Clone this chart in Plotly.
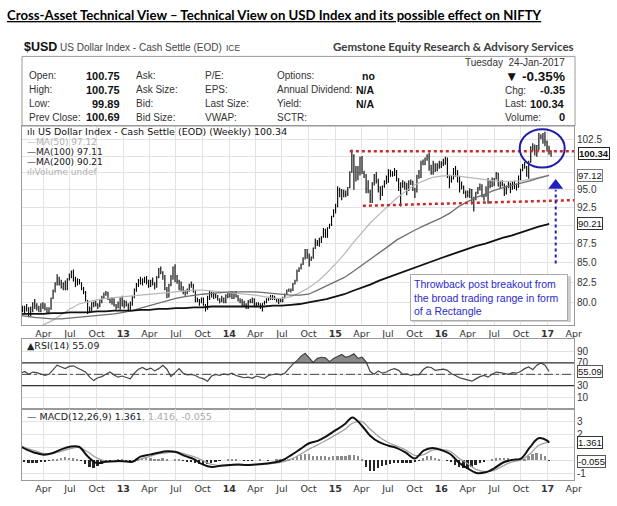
import numpy as np
import pandas as pd
import plotly.graph_objects as go

# ---- weekly bars for $USD (ICE cash settle), one line per month ----
opens = [
    80.6, 79.9,
    79.2, 79.0, 79.3, 79.3,
    78.6, 79.3, 79.8, 79.6, 79.4,
    78.9, 79.8, 79.5, 79.2,
    78.8, 79.2, 80.5, 81.4,
    82.4, 83.0, 82.3, 81.8, 82.3,
    81.6, 82.9, 83.2, 83.8,
    82.8, 82.6, 82.6, 82.4, 81.7,
    81.2, 80.2, 78.9, 79.2,
    79.9, 79.7, 79.8, 79.6,
    80.2, 80.6, 81.0, 81.2, 80.4,
    80.1, 80.4, 79.6, 79.4,
    # 2013
    79.8, 80.5, 79.6, 80.0,
    79.7, 79.1, 79.9, 80.6,
    81.6, 82.2, 82.7, 82.4, 82.6,
    83.0, 82.5, 82.0, 82.6,
    82.3, 81.9, 83.1, 84.2, 83.8,
    83.3, 81.6, 80.8, 82.2,
    83.2, 84.4, 83.2, 82.6,
    81.7, 81.9, 81.2, 81.2, 81.4,
    82.2, 82.2, 81.4, 80.2,
    80.3, 80.1, 80.4, 79.7,
    79.2, 80.7, 81.2, 80.9, 80.9,
    80.6, 80.3, 80.2, 80.5,
    # 2014
    80.1, 80.8, 80.7, 81.2, 80.5,
    81.2, 80.7, 80.2, 80.1,
    79.7, 79.7, 79.3, 80.1,
    80.1, 80.4, 79.5, 79.8,
    79.8, 79.5, 79.9, 80.0, 80.4,
    80.4, 80.6, 80.6, 80.4,
    80.2, 80.2, 80.1, 80.6,
    81.0, 81.4, 81.4, 81.5, 82.3,
    82.7, 83.9, 84.3, 84.8,
    85.6, 86.7, 85.9, 85.3, 85.7,
    86.9, 87.6, 87.5, 88.2,
    88.4, 89.3, 88.4, 89.6,
    # 2015
    90.1, 91.2, 92.1, 92.6, 95.0,
    94.8, 94.5, 94.2, 94.4,
    95.3, 97.6, 100.0, 97.8,
    97.5, 97.5, 99.7, 97.4,
    96.9, 95.2, 94.8, 93.2, 96.0,
    97.0, 96.2, 95.3, 94.4,
    95.5, 96.2, 96.1, 97.9, 97.2,
    97.3, 97.8, 96.5, 94.9,
    95.9, 96.0, 95.3, 94.9,
    96.0, 96.2, 94.9, 94.7, 96.9,
    96.8, 99.1, 98.7, 99.6,
    100.0, 98.1, 97.5, 98.8,
    # 2016
    97.9, 98.6, 98.5, 98.9, 98.9,
    99.6, 97.0, 96.2, 96.6,
    98.1, 97.2, 96.1, 95.1,
    95.4, 94.6, 94.1, 94.6, 95.0,
    93.1, 93.9, 94.6, 95.3,
    95.5, 94.0, 94.2, 94.2,
    95.5, 95.6, 96.3, 96.6, 97.4,
    95.5, 96.2, 95.7, 94.5,
    95.5, 95.8, 95.3, 96.1, 95.5,
    95.4, 96.6, 98.0, 98.7,
    98.4, 97.0, 99.1, 101.2,
    101.5, 100.8, 101.6, 102.9, 103.0,
    # 2017
    102.2, 102.2, 101.2, 100.7,
]
highs = [
    80.9, 80.0,
    79.6, 79.6, 79.8, 79.4,
    79.5, 80.0, 80.4, 79.9, 79.6,
    79.9, 80.0, 79.9, 79.4,
    79.4, 80.6, 81.6, 82.5,
    83.5, 83.2, 82.8, 82.5, 82.7,
    83.0, 83.6, 84.0, 84.1,
    83.2, 83.0, 82.9, 82.5, 81.9,
    81.4, 80.3, 79.5, 80.0,
    80.1, 80.2, 79.9, 80.3,
    80.8, 81.2, 81.4, 81.3, 80.5,
    80.6, 80.5, 79.8, 80.1,
    # 2013
    80.6, 80.8, 80.3, 80.2,
    79.9, 80.1, 80.8, 81.7,
    82.4, 82.9, 83.2, 83.0, 83.2,
    83.3, 82.8, 82.8, 83.1,
    82.5, 83.3, 84.3, 84.5, 83.9,
    83.4, 81.9, 82.3, 83.4,
    84.5, 84.8, 83.4, 82.8,
    82.6, 82.0, 81.5, 81.7, 82.3,
    82.6, 82.3, 81.5, 80.6,
    80.4, 80.6, 80.6, 79.8,
    80.8, 81.5, 81.3, 81.2, 81.1,
    80.9, 80.5, 80.8, 80.6,
    # 2014
    81.0, 81.2, 81.3, 81.4, 81.3,
    81.4, 80.9, 80.5, 80.4,
    80.2, 79.9, 80.3, 80.4,
    80.6, 80.5, 80.0, 80.0,
    79.9, 79.9, 80.2, 80.5, 80.7,
    80.9, 80.9, 80.8, 80.5,
    80.4, 80.4, 80.7, 81.1,
    81.6, 81.7, 81.7, 82.4, 82.8,
    84.1, 84.4, 84.9, 85.7,
    86.8, 86.8, 86.2, 85.8, 87.0,
    88.2, 88.0, 88.3, 88.5,
    89.6, 89.5, 89.7, 90.2,
    # 2015
    91.3, 92.2, 93.0, 95.5, 95.3,
    95.1, 95.0, 94.9, 95.4,
    97.7, 101.0, 100.3, 98.5,
    98.5, 99.9, 100.0, 97.8,
    97.3, 96.4, 95.0, 96.1, 97.3,
    97.6, 96.6, 95.5, 95.6,
    96.4, 97.1, 98.0, 97.9, 97.7,
    98.2, 97.9, 96.7, 96.1,
    96.4, 96.2, 96.0, 96.4,
    96.5, 96.3, 95.3, 97.2, 97.9,
    99.3, 99.5, 99.8, 100.3,
    100.5, 98.7, 99.3, 98.9,
    # 2016
    98.9, 99.3, 99.2, 99.6, 99.9,
    99.8, 97.2, 97.1, 98.2,
    98.5, 97.9, 97.0, 96.2,
    95.6, 94.9, 94.9, 95.2, 95.1,
    94.0, 94.7, 95.4, 95.9,
    95.8, 94.3, 95.5, 96.7,
    96.4, 96.8, 96.7, 97.6, 97.5,
    96.3, 96.4, 95.9, 95.6,
    96.2, 96.0, 96.2, 96.3, 95.9,
    97.1, 98.1, 98.8, 99.1,
    98.5, 99.3, 101.5, 102.0,
    101.8, 101.7, 103.6, 103.4, 103.6,
    # 2017
    103.8, 102.4, 101.6, 100.9,
]
lows = [
    79.7, 78.9,
    78.8, 78.6, 78.9, 78.2,
    78.3, 78.8, 79.2, 79.0, 78.8,
    78.8, 79.2, 79.0, 78.7,
    78.6, 79.1, 80.4, 81.2,
    82.1, 82.1, 81.7, 81.5, 81.5,
    81.5, 82.7, 83.0, 82.6,
    81.9, 82.1, 82.2, 81.5, 81.0,
    80.1, 78.6, 78.8, 78.9,
    79.4, 79.5, 79.2, 79.4,
    79.9, 80.4, 80.8, 80.3, 79.9,
    79.7, 79.5, 79.1, 79.3,
    # 2013
    79.1, 79.5, 79.3, 79.5,
    78.9, 79.0, 79.6, 80.5,
    81.3, 81.9, 82.2, 82.1, 82.4,
    82.2, 81.8, 81.9, 82.1,
    81.6, 81.8, 83.0, 83.5, 82.8,
    81.5, 80.5, 80.6, 82.0,
    82.8, 82.5, 82.3, 81.5,
    81.4, 81.0, 80.8, 81.0, 81.3,
    81.8, 81.2, 80.0, 80.0,
    79.6, 79.9, 79.6, 78.9,
    79.1, 80.3, 80.6, 80.4, 80.5,
    80.2, 79.9, 80.0, 79.9,
    # 2014
    79.9, 80.5, 80.6, 80.4, 80.4,
    80.6, 80.1, 79.9, 79.6,
    79.5, 79.2, 79.2, 79.9,
    79.9, 79.4, 79.4, 79.6,
    79.2, 78.9, 79.7, 79.9, 80.2,
    80.3, 80.3, 80.3, 80.0,
    79.8, 80.0, 80.0, 80.5,
    80.9, 81.3, 81.2, 81.4, 82.2,
    82.6, 83.8, 84.1, 84.7,
    85.4, 85.5, 84.5, 85.2, 85.5,
    86.8, 87.2, 87.1, 87.6,
    88.3, 88.3, 88.3, 89.5,
    # 2015
    89.9, 91.1, 91.6, 92.5, 93.9,
    93.5, 93.9, 93.9, 94.1,
    95.2, 97.5, 95.0, 96.2,
    96.4, 97.1, 97.3, 96.7,
    94.5, 94.5, 93.1, 93.1, 95.6,
    95.9, 94.6, 93.5, 94.1,
    95.3, 95.8, 96.0, 96.9, 96.9,
    97.0, 96.2, 94.8, 92.6,
    95.3, 95.0, 94.2, 94.8,
    95.7, 94.8, 93.8, 94.6, 96.6,
    96.7, 98.6, 98.6, 99.3,
    97.8, 97.2, 97.2, 97.6,
    # 2016
    97.7, 98.1, 98.2, 98.5, 98.7,
    96.7, 95.2, 96.0, 96.5,
    96.9, 96.1, 94.6, 95.1,
    94.4, 93.8, 93.9, 93.8, 92.9,
    91.9, 93.5, 94.4, 94.9,
    93.9, 93.4, 94.0, 93.0,
    95.2, 95.4, 95.5, 96.5, 95.5,
    95.2, 95.5, 94.1, 94.3,
    95.2, 94.5, 95.0, 95.1, 94.9,
    95.3, 96.4, 97.7, 98.1,
    96.9, 96.6, 99.0, 100.7,
    100.1, 99.9, 100.9, 102.6, 101.9,
    # 2017
    101.5, 100.7, 100.2, 99.9,
]
closes = [
    79.9, 79.2,
    79.0, 79.3, 79.3, 78.6,
    79.3, 79.8, 79.6, 79.4, 78.9,
    79.8, 79.5, 79.2, 78.8,
    79.2, 80.5, 81.4, 82.4,
    83.0, 82.3, 81.8, 82.3, 81.6,
    82.9, 83.2, 83.8, 82.8,
    82.6, 82.6, 82.4, 81.7, 81.2,
    80.2, 78.9, 79.2, 79.9,
    79.7, 79.8, 79.6, 80.2,
    80.6, 81.0, 81.2, 80.4, 80.1,
    80.4, 79.6, 79.4, 79.8,
    # 2013
    80.5, 79.6, 80.0, 79.7,
    79.1, 79.9, 80.6, 81.6,
    82.2, 82.7, 82.4, 82.6, 83.0,
    82.5, 82.0, 82.6, 82.3,
    81.9, 83.1, 84.2, 83.8, 83.3,
    81.6, 80.8, 82.2, 83.2,
    84.4, 83.2, 82.6, 81.7,
    81.9, 81.2, 81.2, 81.4, 82.2,
    82.2, 81.4, 80.2, 80.3,
    80.1, 80.4, 79.7, 79.2,
    80.7, 81.2, 80.9, 80.9, 80.6,
    80.3, 80.2, 80.5, 80.1,
    # 2014
    80.8, 80.7, 81.2, 80.5, 81.2,
    80.7, 80.2, 80.1, 79.7,
    79.7, 79.3, 80.1, 80.1,
    80.4, 79.5, 79.8, 79.8,
    79.5, 79.9, 80.0, 80.4, 80.4,
    80.6, 80.6, 80.4, 80.2,
    80.2, 80.1, 80.6, 81.0,
    81.4, 81.4, 81.5, 82.3, 82.7,
    83.9, 84.3, 84.8, 85.6,
    86.7, 85.9, 85.3, 85.7, 86.9,
    87.6, 87.5, 88.2, 88.4,
    89.3, 88.4, 89.6, 90.1,
    # 2015
    91.2, 92.1, 92.6, 95.0, 94.8,
    94.5, 94.2, 94.4, 95.3,
    97.6, 100.0, 97.8, 97.5,
    97.5, 99.7, 97.4, 96.9,
    95.2, 94.8, 93.2, 96.0, 97.0,
    96.2, 95.3, 94.4, 95.5,
    96.2, 96.1, 97.9, 97.2, 97.3,
    97.8, 96.5, 94.9, 95.9,
    96.0, 95.3, 94.9, 96.0,
    96.2, 94.9, 94.7, 96.9, 96.8,
    99.1, 98.7, 99.6, 100.0,
    98.1, 97.5, 98.8, 97.9,
    # 2016
    98.6, 98.5, 98.9, 98.9, 99.6,
    97.0, 96.2, 96.6, 98.1,
    97.2, 96.1, 95.1, 95.4,
    94.6, 94.1, 94.6, 95.0, 93.1,
    93.9, 94.6, 95.3, 95.5,
    94.0, 94.2, 94.2, 95.5,
    95.6, 96.3, 96.6, 97.4, 95.5,
    96.2, 95.7, 94.5, 95.5,
    95.8, 95.3, 96.1, 95.5, 95.4,
    96.6, 98.0, 98.7, 98.4,
    97.0, 99.1, 101.2, 101.5,
    100.8, 101.6, 102.9, 103.0, 102.2,
    # 2017
    102.2, 101.2, 100.7, 100.34,
]

# ---- moving averages, sampled mid-Jan 2012, then monthly, then last bar ----
ma50 = [75.8,
        76.3, 76.8, 77.3, 77.8, 78.5, 79.2, 79.8, 80.1, 80.3, 80.5, 80.6,
        80.7, 80.8, 80.9, 81.0, 81.1, 81.2, 81.3, 81.4, 81.5, 81.5, 81.4, 81.3,
        81.2, 81.1, 81.0, 80.9, 80.7, 80.5, 80.5, 80.7, 81.2, 81.8, 82.6, 83.6,
        84.8, 86.1, 87.5, 88.9, 90.3, 91.5, 92.6, 93.8, 94.8, 95.7, 96.3, 96.8,
        97.0, 97.1, 97.0, 96.8, 96.6, 96.4, 96.3, 96.2, 96.2, 96.3, 96.5, 96.8,
        97.0, 97.12]
ma100 = [78.4,
         78.3, 78.2, 78.1, 78.0, 78.0, 78.1, 78.2, 78.3, 78.4, 78.5, 78.6,
         78.8, 79.0, 79.3, 79.6, 79.9, 80.2, 80.5, 80.7, 80.9, 81.0, 81.1, 81.2,
         81.3, 81.3, 81.3, 81.3, 81.2, 81.1, 81.0, 80.9, 80.9, 81.0, 81.5, 82.0,
         82.5, 83.1, 83.8, 84.6, 85.4, 86.2, 87.1, 88.0, 88.7, 89.3, 89.9, 90.4,
         91.0, 91.7, 92.6, 93.3, 93.9, 94.4, 94.9, 95.3, 95.6, 95.9, 96.3, 96.7,
         97.0, 97.11]
ma200 = [78.6,
         78.6, 78.6, 78.6, 78.7, 78.7, 78.8, 78.8, 78.8, 78.9, 78.9, 79.0,
         79.0, 79.0, 79.1, 79.1, 79.2, 79.2, 79.3, 79.3, 79.4, 79.4, 79.5, 79.5,
         79.5, 79.5, 79.5, 79.5, 79.5, 79.6, 79.6, 79.7, 79.8, 80.0, 80.2, 80.4,
         80.7, 81.0, 81.4, 81.8, 82.2, 82.7, 83.1, 83.6, 84.0, 84.4, 84.8, 85.2,
         85.6, 86.0, 86.4, 86.8, 87.2, 87.5, 87.9, 88.3, 88.6, 89.0, 89.4, 89.8,
         90.1, 90.21]

# ---- MACD(12,26,9) line and signal, same sampling as the MAs ----
macd = [1.06,
        0.85, 0.6, 0.45, 0.55, 0.85, 1.05, 1.05, 0.3, -0.2, -0.1, -0.05,
        -0.05, -0.1, 0.3, 0.45, 0.6, 0.7, 0.65, 0.35, 0.1, -0.3, -0.5, -0.4,
        -0.35, -0.3, -0.35, -0.3, -0.25, -0.15, 0.0, 0.4, 0.85, 1.3, 1.5, 1.85,
        2.3, 2.75, 3.3, 2.7, 1.9, 1.4, 1.15, 0.95, 0.6, 0.15, 0.75, 0.95,
        0.8, 0.5, -0.15, -0.6, -0.95, -0.9, -0.6, -0.15, 0.05, 0.15, 1.0, 1.7,
        1.5, 1.361]
signal = [1.1,
          0.95, 0.75, 0.55, 0.55, 0.7, 0.9, 1.0, 0.65, 0.2, -0.05, -0.08,
          -0.07, -0.07, 0.1, 0.3, 0.5, 0.6, 0.65, 0.5, 0.3, 0.0, -0.3, -0.4,
          -0.38, -0.33, -0.33, -0.32, -0.3, -0.22, -0.12, 0.1, 0.45, 0.85, 1.2, 1.55,
          1.95, 2.35, 2.85, 3.0, 2.4, 1.8, 1.4, 1.1, 0.8, 0.4, 0.45, 0.8,
          0.85, 0.7, 0.2, -0.25, -0.7, -0.85, -0.75, -0.4, -0.1, 0.05, 0.5, 1.15,
          1.4, 1.416]

# ---- RSI(14) and MACD histogram, every second week ----
rsi = [52, 55, 50, 54, 53, 51, 48, 50, 58, 66, 63, 60, 64, 65, 61, 57, 54, 45, 39, 44, 46, 50, 54, 49, 45, 47,
       44, 42, 52, 59, 62, 58, 61, 56, 60, 66, 59, 46, 53, 60, 52, 49, 50, 48, 44, 42, 38, 47, 50, 48, 51, 49,
       52, 48, 46, 44, 45, 43, 47, 45, 43, 48, 50, 51, 49, 52, 60, 68, 74, 82, 87, 79, 71, 78, 80, 79, 72, 78,
       82, 85, 80, 82, 86, 78, 80, 72, 55, 50, 56, 52, 54, 58, 60, 57, 50, 51, 48, 50, 49, 58, 63, 62, 57, 58,
       59, 57, 51, 48, 44, 42, 40, 38, 42, 46, 48, 45, 50, 54, 53, 51, 50, 53, 52, 55, 60, 63, 58, 66, 70, 66,
       55.09]
hist = [-0.1, -0.15, -0.2, -0.25, -0.2, -0.15, -0.12, -0.05, 0.02, 0.1, 0.2, 0.22, 0.2, 0.15, 0.08, -0.05,
        -0.3, -0.5, -0.6, -0.45, -0.3, -0.1, -0.05, 0.0, 0.03, 0.02,
        -0.03, -0.05, 0.0, 0.1, 0.2, 0.2, 0.15, 0.12, 0.1, 0.15, 0.1, 0.0, 0.02, 0.05, -0.02, -0.1,
        -0.15, -0.2, -0.3, -0.35, -0.3, -0.2, -0.1, -0.05, 0.0, 0.02,
        0.05, 0.05, 0.0, -0.02, -0.03, -0.02, 0.0, 0.02, 0.0, -0.02, 0.0, 0.03, 0.05, 0.08, 0.12, 0.2,
        0.3, 0.4, 0.45, 0.45, 0.35, 0.3, 0.3, 0.28, 0.25, 0.3,
        0.3, 0.35, 0.35, 0.4, 0.4, 0.3, 0.05, -0.5, -0.8, -0.85, -0.6, -0.45, -0.4, -0.3, -0.2, -0.2,
        -0.25, -0.25, -0.2, -0.15, -0.05, 0.15, 0.35, 0.3, 0.2, 0.1,
        0.0, -0.05, -0.15, -0.35, -0.5, -0.6, -0.65, -0.55, -0.4, -0.25, -0.1, 0.0, 0.05, 0.15, 0.2, 0.2,
        0.15, 0.1, 0.0, 0.02, 0.1, 0.3, 0.45, 0.55, 0.5, 0.35,
        -0.055]

# ---- drawn-in levels ----
resistance = 100.76
support_ends = [92.7, 93.5]
arrow_span = [84.9, 95.0]

price_ticks = [80.0, 82.5, 85.0, 87.5, 90.0, 92.5, 95.0, 97.5, 100.0, 102.5]
price_tick_text = ["80.0", "82.5", "85.0", "87.5", "", "92.5", "95.0", "", "", "102.5"]
rsi_ticks = [10, 30, 50, 70, 90]
rsi_tick_text = ["10", "30", "", "70", "90"]
macd_ticks = [-1, 0, 1, 2, 3]
macd_tick_text = ["-1", "", "", "2", "3"]
quarter_labels = ["Apr", "Jul", "Oct", "<b>13</b>", "Apr", "Jul", "Oct", "<b>14</b>", "Apr", "Jul", "Oct",
                  "<b>15</b>", "Apr", "Jul", "Oct", "<b>16</b>", "Apr", "Jul", "Oct", "<b>17</b>", "Apr"]

# header quote
col1_labels = ["Open:", "High:", "Low:", "Prev Close:"]
col1_values = ["100.75", "100.75", "99.89", "100.69"]
col2_labels = ["Ask:", "Ask Size:", "Bid:", "Bid Size:"]
col3_labels = ["P/E:", "EPS:", "Last Size:", "VWAP:"]
col4_labels = ["Options:", "Annual Dividend:", "Yield:", "SCTR:"]
col4_values = ["no", "N/A", "N/A", ""]

weeks = pd.date_range("2012-01-06", periods=len(closes), freq="7D")
ma_dates = ([pd.Timestamp("2012-01-15")] + list(pd.date_range("2012-02-01", "2017-01-01", freq="MS"))
            + [pd.Timestamp("2017-01-06")])
osc_dates = pd.date_range("2012-01-13", periods=len(rsi), freq="14D")
quarters = pd.date_range("2012-04-01", "2017-04-01", freq="QS")
x_range = ["2012-01-18", "2017-04-02"]

# pixel -> paper helpers (plot area 22..574 x 126..482)
L, R, T, B = 22, 574, 126, 482
def xp(px):
    return (px - L) / (R - L)
def yp(py):
    return (B - py) / (B - T)

GRID = "#e3e3e3"
FRAME = "#9a9a9a"
CHART_FONT = "DejaVu Sans"

fig = go.Figure()

# price panel
fig.add_trace(go.Ohlc(x=weeks, open=opens, high=highs, low=lows, close=closes,
                      increasing_line_color="black", decreasing_line_color="black",
                      line_width=1.1, tickwidth=0.3, hoverinfo="skip", xaxis="x", yaxis="y"))
fig.add_trace(go.Scatter(x=ma_dates, y=ma50, mode="lines", line=dict(color="#b8b8b8", width=1.2),
                         xaxis="x", yaxis="y"))
fig.add_trace(go.Scatter(x=ma_dates, y=ma100, mode="lines", line=dict(color="#6e6e6e", width=1.3),
                         xaxis="x", yaxis="y"))
fig.add_trace(go.Scatter(x=ma_dates, y=ma200, mode="lines", line=dict(color="#111111", width=1.8),
                         xaxis="x", yaxis="y"))
fig.add_trace(go.Scatter(x=["2015-02-20", x_range[1]], y=[resistance, resistance], mode="lines",
                         line=dict(color="#cc2b2b", width=2.5, dash="dot"), xaxis="x", yaxis="y"))
fig.add_trace(go.Scatter(x=["2015-04-06", x_range[1]], y=support_ends, mode="lines",
                         line=dict(color="#cc2b2b", width=2.5, dash="dot"), xaxis="x", yaxis="y"))
fig.add_trace(go.Scatter(x=["2017-01-29", "2017-01-29"], y=arrow_span, mode="lines",
                         line=dict(color="#2020c0", width=2, dash="dot"), xaxis="x", yaxis="y"))
fig.add_trace(go.Scatter(x=["2017-01-29"], y=[arrow_span[1] + 0.6], mode="markers",
                         marker=dict(symbol="triangle-up", size=13, color="#2020c0"), xaxis="x", yaxis="y"))

# RSI panel
fig.add_trace(go.Scatter(x=osc_dates, y=[70] * len(rsi), mode="lines", line=dict(width=0),
                         xaxis="x2", yaxis="y2"))
fig.add_trace(go.Scatter(x=osc_dates, y=[max(v, 70) for v in rsi], mode="lines", line=dict(width=0),
                         fill="tonexty", fillcolor="#8a8a8a", xaxis="x2", yaxis="y2"))
fig.add_trace(go.Scatter(x=osc_dates, y=rsi, mode="lines", line=dict(color="#454545", width=1.2),
                         xaxis="x2", yaxis="y2"))

# MACD panel
fig.add_trace(go.Bar(x=osc_dates, y=hist, width=6 * 86400000,
                     marker=dict(color=["#8c8c8c" if v >= 0 else "#262626" for v in hist], line_width=0),
                     xaxis="x3", yaxis="y3"))
fig.add_trace(go.Scatter(x=ma_dates, y=signal, mode="lines", line=dict(color="#a0a0a0", width=1.3),
                         line_shape="spline", xaxis="x3", yaxis="y3"))
fig.add_trace(go.Scatter(x=ma_dates, y=macd, mode="lines", line=dict(color="#111111", width=2),
                         line_shape="spline", xaxis="x3", yaxis="y3"))

xcommon = dict(range=x_range, tickvals=quarters, ticktext=quarter_labels, showgrid=True, gridcolor=GRID,
               showline=True, mirror=True, linecolor=FRAME, zeroline=False, ticks="",
               tickfont=dict(family=CHART_FONT, size=9.5, color="#333"))
ycommon = dict(side="right", showgrid=True, gridcolor=GRID, showline=True, mirror=True, linecolor=FRAME,
               zeroline=False, ticks="", tickfont=dict(family="Liberation Sans", size=10, color="#333"))

fig.update_layout(
    width=617, height=506,
    margin=dict(l=L, r=617 - R, t=T, b=506 - B),
    paper_bgcolor="white", plot_bgcolor="white",
    showlegend=False, bargap=0,
    font=dict(family="Liberation Sans", size=10, color="#222"),
    xaxis=dict(xcommon, anchor="y", domain=[0, 1], rangeslider=dict(visible=False)),
    yaxis=dict(ycommon, domain=[yp(326), 1], type="log", range=[np.log10(77.3), np.log10(104.7)],
               tickvals=price_ticks, ticktext=price_tick_text),
    xaxis2=dict(xcommon, anchor="y2", domain=[0, 1], showticklabels=False),
    yaxis2=dict(ycommon, domain=[yp(411), yp(340.7)], range=[-11.6, 111.2],
                tickvals=rsi_ticks, ticktext=rsi_tick_text),
    xaxis3=dict(xcommon, anchor="y3", domain=[0, 1]),
    yaxis3=dict(ycommon, domain=[0, yp(411)], range=[-1.49, 3.91],
                tickvals=macd_ticks, ticktext=macd_tick_text),
)

# RSI guide lines
for lvl in (30, 70):
    fig.add_shape(type="line", xref="paper", yref="y2", x0=0, x1=1, y0=lvl, y1=lvl,
                  line=dict(color="#333", width=1.3))
fig.add_shape(type="line", xref="paper", yref="y2", x0=0, x1=1, y0=50, y1=50,
              line=dict(color="#444", width=1, dash="dashdot"))

# circle around the breakout
fig.add_shape(type="circle", xref="x", yref="y", x0="2016-09-27", x1="2017-03-01", y0=98.27, y1=104.2,
              line=dict(color="#1c1ca8", width=2))

# header frame
fig.add_shape(type="rect", xref="paper", yref="paper", x0=0, x1=xp(575), y0=1, y1=yp(56),
              line=dict(color=FRAME, width=1))

# comment box shadow
fig.add_shape(type="rect", xref="paper", yref="paper", x0=xp(412), x1=xp(571), y0=yp(323), y1=yp(277),
              fillcolor="#cfcfcf", line_width=0, layer="above")


def note(text, x, y, xanchor="left", size=10, color="#222", family="Liberation Sans", **kw):
    fig.add_annotation(text=text, x=xp(x), y=yp(y), xref="paper", yref="paper", xanchor=xanchor,
                       yanchor="middle", showarrow=False, font=dict(size=size, color=color, family=family),
                       **kw)


# title and header
note("<b><u>Cross-Asset Technical View – Technical View on USD Index and its possible effect on NIFTY</u></b>",
     5, 14, size=13.2, color="#000", family="Lato")
note("<b>$USD</b>", 22, 47, size=12.5, color="#111")
note("US Dollar Index - Cash Settle (EOD)", 57.5, 47.5, size=10, color="#444")
note("ICE", 224, 48, size=8.5, color="#444")
note("<b>Gemstone Equity Research &amp; Advisory Services</b>", 576, 46, xanchor="right", size=11.5,
     color="#3c3c3c", family="Lato")

rows_y = [75.7, 89.3, 103.5, 117.3]
for i, yy in enumerate(rows_y):
    note(col1_labels[i], 27, yy, color="#333")
    note(f"<b>{col1_values[i]}</b>", 122, yy, xanchor="right", size=11, color="#111")
    note(col2_labels[i], 134, yy, color="#333")
    note(col3_labels[i], 203, yy, color="#333")
    note(col4_labels[i], 275, yy, color="#333")
    if col4_values[i]:
        note(f"<b>{col4_values[i]}</b>", 377, yy, xanchor="right", size=10.5, color="#111")

note("Tuesday  24-Jan-2017", 567, 61.7, xanchor="right", color="#333")
note("<b>▼ -0.35%</b>", 567, 76, xanchor="right", size=13.5, color="#111")
note("Chg:", 503, 90, color="#333")
note("<b>-0.35</b>", 567, 90, xanchor="right", size=11, color="#111")
note("Last:", 503, 103.7, color="#333")
note("<b>100.34</b>", 567, 103.7, xanchor="right", size=11, color="#111")
note("Volume:", 503, 117.3, color="#333")
note("<b>0</b>", 567, 117.3, xanchor="right", size=11, color="#111")

# in-panel labels
note("ılı US Dollar Index - Cash Settle (EOD) (Weekly) 100.34", 25, 131.7, size=9.5, color="#111",
     family=CHART_FONT)
note("—MA(50) 97.12", 25, 141.9, size=9, color="#b0b0b0", family=CHART_FONT)
note("—MA(100) 97.11", 25, 152.2, size=9, color="#222", family=CHART_FONT)
note("—MA(200) 90.21", 25, 162.5, size=9, color="#111", family=CHART_FONT)
note("ılıVolume undef", 25, 172.5, size=9, color="#b0b0b0", family=CHART_FONT)
note("▲RSI(14) 55.09", 25, 346.8, size=9.5, color="#222", family=CHART_FONT)
note("— MACD(12,26,9) 1.361<span style='color:#aaaaaa'>, 1.416, -0.055</span>", 25, 417.7, size=9.5,
     color="#222", family=CHART_FONT)

# value tags on the right axis
def tag(text, x, y, yref, border="#222"):
    fig.add_annotation(text=text, x=xp(x), y=y, xref="paper", yref=yref, xanchor="left", yanchor="middle",
                       showarrow=False, font=dict(size=9.5, color="#111", family="Liberation Sans"),
                       bgcolor="white", bordercolor=border, borderwidth=1, borderpad=0)


tag("<b>100.34</b>", 578, np.log10(closes[-1]), "y")
tag("97.12", 577, np.log10(ma50[-1]), "y", border="#777")
tag("90.21", 577, np.log10(ma200[-1]), "y", border="#333")
tag("55.09", 577, rsi[-1], "y2", border="#555")
tag("1.361", 577, macd[-1], "y3", border="#333")
tag("-0.055", 577, hist[-1], "y3", border="#555")

# comment box
fig.add_annotation(text="Throwback post breakout from<br>the broad trading range in form<br>of a Rectangle",
                   x=xp(410), y=yp(275), xref="paper", yref="paper", xanchor="left", yanchor="top",
                   showarrow=False, align="left", valign="top", width=150, height=39,
                   font=dict(size=10.5, color="#2a2acc", family="Liberation Sans"),
                   bgcolor="white", bordercolor="#aaaaaa", borderwidth=1, borderpad=3)

# page margin off so the figure sits at the window's corner; no toolbar
fig.write_html("out.html", config={"displayModeBar": False},
               post_script="document.body.style.margin='0';")
